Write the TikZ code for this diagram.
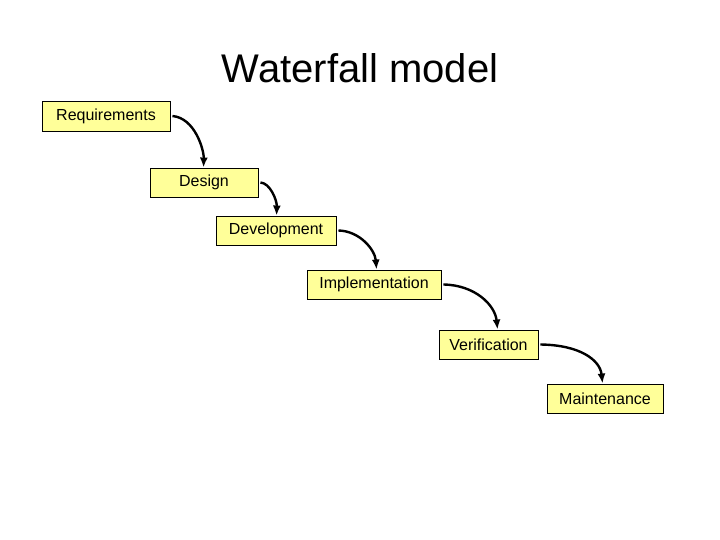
\documentclass[tikz,border=0pt]{standalone}
\usepackage{fontspec}
\setmainfont{Liberation Sans}
\usetikzlibrary{calc,arrows.meta}
\begin{document}
\begin{tikzpicture}[x=1pt,y=-1pt,
  box/.style={draw=black,line width=0.9pt,fill={rgb,255:red,255;green,255;blue,153},inner sep=0pt,font=\fontsize{16}{18}\selectfont},
  arr/.style={line width=2.4pt,-{Latex[length=10pt,width=8pt]}}]
\useasboundingbox (0,0) rectangle (720,540);
\node[font=\fontsize{40}{44}\selectfont] (title) at (360,68) {Waterfall model};
\node[box,minimum width=128pt,minimum height=30pt] (r) at (106,116) {Requirements};
\node[box,minimum width=108pt,minimum height=29pt] (d) at (204,182.5) {Design};
\node[box,minimum width=120pt,minimum height=29pt] (dv) at (276,230.5) {Development};
\node[box,minimum width=134pt,minimum height=29pt] (i) at (374,284.5) {Implementation};
\node[box,minimum width=99pt,minimum height=29pt] (v) at (488.5,344.5) {Verification};
\node[box,minimum width=116pt,minimum height=29pt] (m) at (605,398.5) {Maintenance};
\draw[arr] ($(r.east)+(2,0)$) .. controls (195,118) and (204,150) .. ($(d.north west)+(54,0)$);
\draw[arr] ($(d.east)+(2,0)$) .. controls (270,183) and (277,200) .. ($(dv.north west)+(61,0)$);
\draw[arr] ($(dv.east)+(2,0)$) .. controls (360,231) and (375,250) .. ($(i.north west)+(70,0)$);
\draw[arr] ($(i.east)+(2,0)$) .. controls (475,285) and (495,305) .. ($(v.north west)+(59,0)$);
\draw[arr] ($(v.east)+(2,0)$) .. controls (580,345) and (600,360) .. ($(m.north west)+(56,0)$);
\end{tikzpicture}
\end{document}
